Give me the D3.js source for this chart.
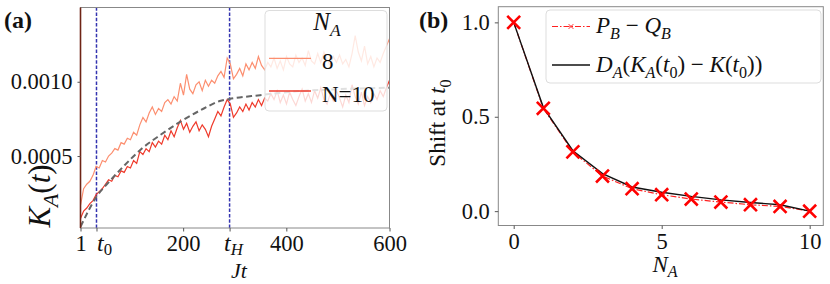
<!DOCTYPE html>
<html><head><meta charset="utf-8">
<script src="https://cdn.jsdelivr.net/npm/d3@7"></script>
<style>body{margin:0;background:#fff}svg{display:block}text{font-family:"Liberation Serif","Times New Roman",serif !important;fill:#111}</style>
</head><body><svg id="c" width="830" height="284"></svg>
<script>
// ---------- DATA ----------
// Panel (a): K_A(t) traces, values in units of 1e-5, sampled on a uniform time grid from Jt=1 to Jt=600
const unitA = 1e-5;
const kA_NA8 = [17,28,31,33,37,43,42,47,46,50,52,55,54,59,58,62,61,66,64,71,76,73,79,83,78,82,80,86,88,85,90,87,99,91,105,95,92,98,100,94,101,97,101,99,104,107,103,116,112,102,105,109,104,112,108,113,109,117,111,108,113,110,116,109,114,108,117,112,110,118,113,116,111,121,114,112,119,113,120,115,111,117,113,118,112,115,110,119,131,120,114,124,112,117,110,116,113,119,124,129];
const kA_N10 = [8,13,15,18,20,24,26,28,31,34,33,37,36,40,39,43,42,47,45,53,51,55,53,59,56,60,58,64,61,67,63,69,74,68,72,66,70,73,67,71,68,63,70,75,80,77,83,88,85,76,79,83,80,85,81,86,83,88,84,89,87,92,88,94,86,91,85,93,88,84,90,95,87,92,86,94,89,96,88,85,92,87,94,89,83,91,86,98,90,85,93,84,90,86,92,88,94,90,96,101];
const tStart = 1, tEnd = 600;
// dashed reference curve (Jt, value x1e-5)
const fitT = [1,32,60,87,120,155,194,240,271,290,349,400,500,600];
const fitV = [2.4,22.6,34,44,55,64,73,82,87,88.4,91,93,95,96];
const markT = {t0:32, tH:290};
const xTicksA = [1,32,200,290,400,600];
const xTickLabelsA = ["1","t0","200","tH","400","600"];
const yTicksA = [0.0005,0.0010];
const legendA = ["8","N=10"];

// Panel (b)
const NA = [0,1,2,3,4,5,6,7,8,9,10];
const PBminusQB = [1.0,0.545,0.314,0.186,0.119,0.087,0.064,0.048,0.034,0.025,0.0];
const DAshift   = [1.0,0.55,0.32,0.199,0.128,0.1,0.078,0.06,0.046,0.034,0.0];
const xTicksB = [0,5,10];
const yTicksB = [0.0,0.5,1.0];

// ---------- HELPERS ----------
const svg = d3.select("#c");
function math(sel, parts, size, sub=0.25){
  let shift = 0;
  parts.forEach(p=>{
    const target = p.s ? size*sub : 0;
    const ts = sel.append("tspan").text(p.t).attr("font-size", p.s? size*0.7 : size);
    if(p.i) ts.attr("font-style","italic");
    if(target!==shift){ ts.attr("dy", target-shift); shift=target; }
  });
}
const C8 = "#fc8f70", C10 = "#ef3a2b";

// ---------- PANEL (a) ----------
const xa = d3.scaleLinear().domain([tStart,tEnd]).range([80.5,389.5]);
const ya = d3.scaleLinear().domain([0.0000155,0.0015]).range([228,7.5]);
const times = d3.range(kA_NA8.length).map(i=> tStart + i*(tEnd-tStart)/(kA_NA8.length-1));

svg.append("defs").append("clipPath").attr("id","clipA").append("rect")
  .attr("x",80.5).attr("y",7.5).attr("width",309).attr("height",220.5);
const gA = svg.append("g");
const plotA = gA.append("g").attr("clip-path","url(#clipA)");

[markT.t0, markT.tH].forEach(t=>{
  plotA.append("line").attr("x1",xa(t)).attr("x2",xa(t)).attr("y1",ya.range()[0]).attr("y2",ya.range()[1])
    .attr("stroke","#3434b0").attr("stroke-width",1.5).attr("stroke-dasharray","3.5,1.8");
});
const lineA = d3.line().x((d,i)=>xa(times[i])).y(d=>ya(d*unitA));
plotA.append("path").datum(kA_NA8).attr("d",lineA).attr("fill","none").attr("stroke",C8).attr("stroke-width",1.2);
plotA.append("path").datum(kA_N10).attr("d",lineA).attr("fill","none").attr("stroke",C10).attr("stroke-width",1.2);
plotA.append("path").datum(fitT).attr("d", d3.line().curve(d3.curveMonotoneX).x(d=>xa(d)).y((d,i)=>ya(fitV[i]*unitA)))
  .attr("fill","none").attr("stroke","#666").attr("stroke-width",2).attr("stroke-dasharray","6,3.5");

gA.append("rect").attr("x",80.5).attr("y",7.5).attr("width",309).attr("height",220.5).attr("fill","none").attr("stroke","#888").attr("stroke-width",1);
gA.append("line").attr("x1",80.5).attr("x2",80.5).attr("y1",7.5).attr("y2",228).attr("stroke","#6e2416").attr("stroke-width",1.6);

const axA = gA.append("g").attr("transform","translate(0,228)")
  .call(d3.axisBottom(xa).tickValues(xTicksA).tickSize(3.5).tickPadding(4).tickFormat(()=>""));
axA.select(".domain").remove();
axA.selectAll(".tick line").attr("stroke","#555");
axA.selectAll(".tick text").each(function(d,i){
  const t = d3.select(this).attr("font-size",22.5).attr("fill","#111");
  const lab = xTickLabelsA[i];
  if(lab.startsWith("t")){
    t.attr("text-anchor","start").attr("dx", lab==="t0"? 0 : -6);
    math(t,[{t:"t",i:true},{t:lab.slice(1),s:true,i:lab!=="t0"}],24,0.14);
  } else t.text(lab);
});
const ayA = gA.append("g").attr("transform","translate(80.5,0)")
  .call(d3.axisLeft(ya).tickValues(yTicksA).tickSize(3).tickPadding(5).tickFormat(d3.format(".4f")));
ayA.select(".domain").remove();
ayA.selectAll(".tick line").attr("stroke","#555");
ayA.selectAll(".tick text").attr("font-size",22.5).attr("fill","#111");

math(gA.append("text").attr("text-anchor","middle").attr("transform","translate(50,196) rotate(-90)"),
  [{t:"K",i:true},{t:"A",i:true,s:true},{t:"("},{t:"t",i:true},{t:")"}],31);
math(gA.append("text").attr("x",239).attr("y",278).attr("text-anchor","middle"),[{t:"Jt",i:true}],22);
gA.append("text").attr("x",4).attr("y",28).attr("font-size",24).attr("font-weight","bold").text("(a)");

// legend (a)
const lgA = gA.append("g");
lgA.append("rect").attr("x",265).attr("y",10.5).attr("width",122).attr("height",100.5).attr("rx",4)
  .attr("fill","#fff").attr("fill-opacity",0.8).attr("stroke","#ddd").attr("stroke-width",1);
math(lgA.append("text").attr("x",327).attr("y",30).attr("text-anchor","middle"),[{t:"N",i:true},{t:"A",i:true,s:true}],25);
[[C8,58.3,legendA[0],68.5],[C10,91,legendA[1],101.5]].forEach(([c,y,lab,by])=>{
  lgA.append("line").attr("x1",269).attr("x2",311).attr("y1",y).attr("y2",y).attr("stroke",c).attr("stroke-width",1.3);
  lgA.append("text").attr("x",322).attr("y",by).attr("font-size",23).text(lab);
});

// ---------- PANEL (b) ----------
const xb = d3.scaleLinear().domain([-0.52,10.46]).range([498.3,823.3]);
const yb = d3.scaleLinear().domain([-0.076,1.083]).range([225.5,6.7]);
const gB = svg.append("g");
gB.append("rect").attr("x",498.3).attr("y",6.7).attr("width",325).attr("height",218.8).attr("fill","none").attr("stroke","#888").attr("stroke-width",1);

const axB = gB.append("g").attr("transform","translate(0,225.5)")
  .call(d3.axisBottom(xb).tickValues(xTicksB).tickSize(3.5).tickPadding(4).tickFormat(d3.format("d")));
axB.select(".domain").remove();
axB.selectAll(".tick line").attr("stroke","#555");
axB.selectAll(".tick text").attr("font-size",22.5).attr("fill","#111");
const ayB = gB.append("g").attr("transform","translate(498.3,0)")
  .call(d3.axisLeft(yb).tickValues(yTicksB).tickSize(3.5).tickPadding(5).tickFormat(d3.format(".1f")));
ayB.select(".domain").remove();
ayB.selectAll(".tick line").attr("stroke","#555");
ayB.selectAll(".tick text").attr("font-size",22.5).attr("fill","#111");

const lineB = arr => d3.line().x((d,i)=>xb(NA[i])).y(d=>yb(d))(arr);
gB.append("path").attr("d",lineB(PBminusQB)).attr("fill","none").attr("stroke","#ff2020").attr("stroke-width",1.2).attr("stroke-dasharray","6,2,1.5,2");
gB.append("path").attr("d",lineB(DAshift)).attr("fill","none").attr("stroke","#111").attr("stroke-width",1.4);
const xm = d3.symbol().type(d3.symbolTimes).size(110);
gB.selectAll(".mk").data(PBminusQB).join("path").attr("class","mk")
  .attr("transform",(d,i)=>`translate(${xb(NA[i])},${yb(d)})`).attr("d",xm)
  .attr("fill","none").attr("stroke","#ff0000").attr("stroke-width",2.6);

math(gB.append("text").attr("text-anchor","middle").attr("transform","translate(445,123) rotate(-90)"),
  [{t:"Shift at "},{t:"t",i:true},{t:"0",s:true}],23);
math(gB.append("text").attr("x",665).attr("y",272).attr("text-anchor","middle"),[{t:"N",i:true},{t:"A",i:true,s:true}],23,0.2);
gB.append("text").attr("x",419).attr("y",28).attr("font-size",24).attr("font-weight","bold").text("(b)");

// legend (b)
const lgB = gB.append("g");
lgB.append("rect").attr("x",546).attr("y",10).attr("width",275).attr("height",73).attr("rx",4)
  .attr("fill","#fff").attr("fill-opacity",0.8).attr("stroke","#ddd").attr("stroke-width",1);
lgB.append("line").attr("x1",552).attr("x2",590).attr("y1",26.5).attr("y2",26.5).attr("stroke","#ff2020").attr("stroke-width",1.2).attr("stroke-dasharray","6,2,1.5,2");
lgB.append("path").attr("transform","translate(571,26.5)").attr("d",d3.symbol().type(d3.symbolTimes).size(16))
  .attr("fill","none").attr("stroke","#ff2020").attr("stroke-width",1);
lgB.append("line").attr("x1",552).attr("x2",590).attr("y1",65).attr("y2",65).attr("stroke","#111").attr("stroke-width",1.4);
math(lgB.append("text").attr("x",596).attr("y",33),
  [{t:"P",i:true},{t:"B",i:true,s:true},{t:" − "},{t:"Q",i:true},{t:"B",i:true,s:true}],23);
math(lgB.append("text").attr("x",596).attr("y",72),
  [{t:"D",i:true},{t:"A",i:true,s:true},{t:"("},{t:"K",i:true},{t:"A",i:true,s:true},{t:"("},{t:"t",i:true},{t:"0",s:true},{t:") − "},{t:"K",i:true},{t:"("},{t:"t",i:true},{t:"0",s:true},{t:"))"}],23);
</script></body></html>
